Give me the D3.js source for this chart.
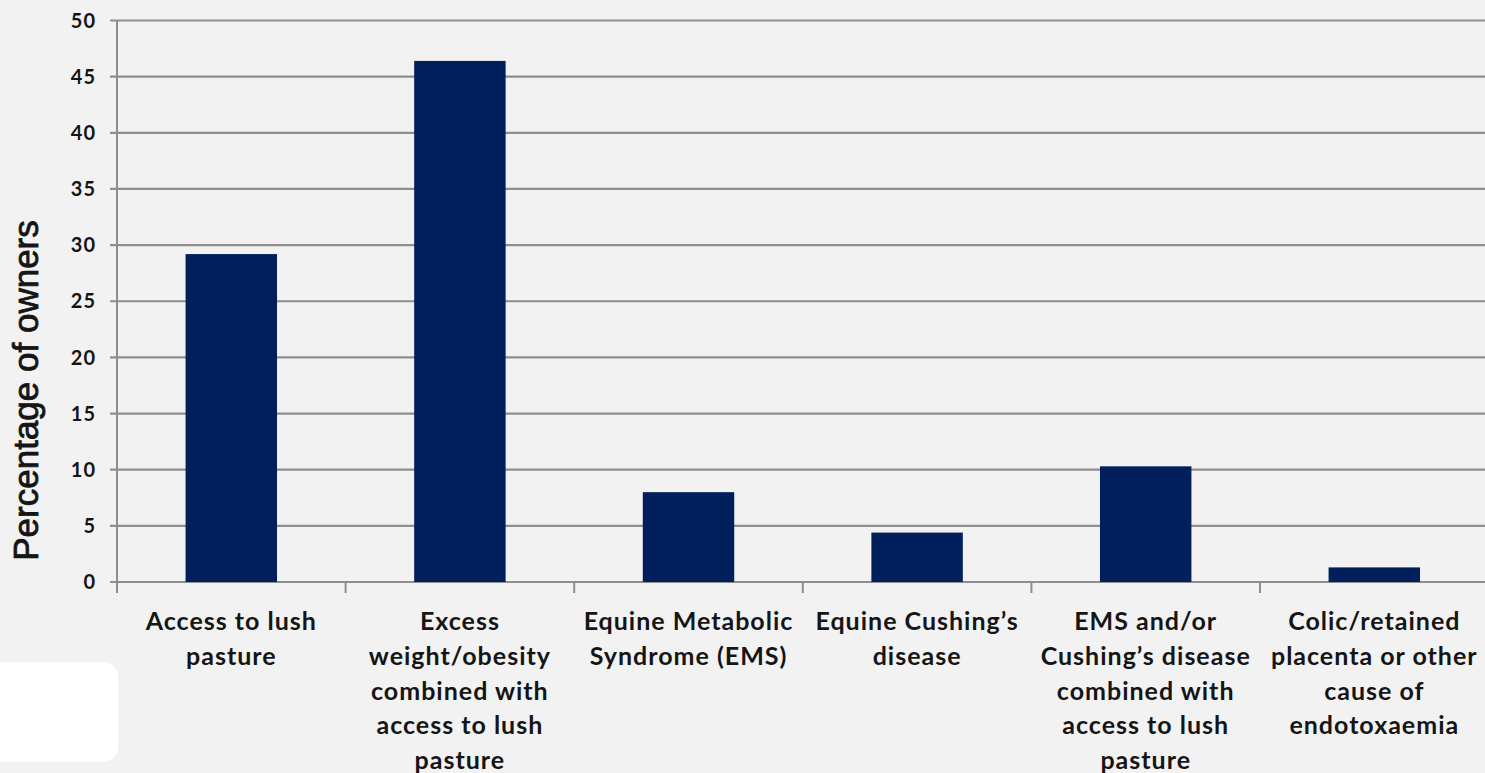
<!DOCTYPE html>
<html>
<head>
<meta charset="utf-8">
<script src="https://cdn.jsdelivr.net/npm/d3@7"></script>
<style>
  html, body { margin: 0; padding: 0; background: #f2f2f2; overflow: hidden; }
  svg { display: block; }
</style>
</head>
<body>
<div id="chart"></div>
<script>
// categories (line breaks follow the original label wrapping)
const categories = [
    "Access to lush\npasture",
    "Excess\nweight/obesity\ncombined with\naccess to lush\npasture",
    "Equine Metabolic\nSyndrome (EMS)",
    "Equine Cushing\u2019s\ndisease",
    "EMS and/or\nCushing\u2019s disease\ncombined with\naccess to lush\npasture",
    "Colic/retained\nplacenta or other\ncause of\nendotoxaemia"
];
const percentages = [29.2, 46.4, 8.0, 4.4, 10.3, 1.3];
const yTicks = [0, 5, 10, 15, 20, 25, 30, 35, 40, 45, 50];
const yTitle = "Percentage of owners";

window.onload = () => {
    const width = 1485;
    const height = 773;
    const left = 117, right = 1488.6, top = 20.5, bottom = 582;

    const svg = d3.select("#chart")
        .append("svg")
        .attr("width", width)
        .attr("height", height);

    svg.append("rect")
        .attr("width", width)
        .attr("height", height)
        .attr("fill", "#f2f2f2");

    // white rounded box in the lower left corner
    svg.append("rect")
        .attr("x", -20)
        .attr("y", 662)
        .attr("width", 138)
        .attr("height", 100)
        .attr("rx", 15)
        .attr("fill", "#ffffff");

    const x = d3.scaleBand()
        .domain(categories)
        .range([left, right])
        .paddingInner(0.6)
        .paddingOuter(0.3);

    const xSlot = d3.scaleBand()
        .domain(categories)
        .range([left, right])
        .padding(0);

    const y = d3.scaleLinear()
        .domain([0, 50])
        .range([bottom, top]);

    // gridlines
    svg.append("g")
        .selectAll("line")
        .data(yTicks)
        .enter()
        .append("line")
        .attr("x1", left - 7)
        .attr("x2", width)
        .attr("y1", d => y(d))
        .attr("y2", d => y(d))
        .attr("stroke", "#8e8e8e")
        .attr("stroke-width", 2.2);

    // y axis line
    svg.append("line")
        .attr("x1", left)
        .attr("x2", left)
        .attr("y1", top)
        .attr("y2", bottom + 11)
        .attr("stroke", "#8e8e8e")
        .attr("stroke-width", 2);

    // category tick marks
    svg.append("g")
        .selectAll("line")
        .data(categories)
        .enter()
        .append("line")
        .attr("x1", d => xSlot(d))
        .attr("x2", d => xSlot(d))
        .attr("y1", bottom)
        .attr("y2", bottom + 11)
        .attr("stroke", "#8e8e8e")
        .attr("stroke-width", 2);

    // bars
    svg.append("g")
        .selectAll("rect")
        .data(percentages)
        .enter()
        .append("rect")
        .attr("x", (d, i) => x(categories[i]))
        .attr("width", x.bandwidth())
        .attr("y", d => y(d))
        .attr("height", d => y(0) - y(d))
        .attr("fill", "#001f5b");

    // y tick labels
    svg.append("g")
        .selectAll("text")
        .data(yTicks)
        .enter()
        .append("text")
        .attr("x", 96)
        .attr("y", d => y(d))
        .attr("dy", "0.36em")
        .attr("text-anchor", "end")
        .attr("font-family", "Lato, sans-serif")
        .attr("font-weight", 700)
        .attr("font-size", 20)
        .attr("letter-spacing", 1)
        .attr("fill", "#151515")
        .text(d => d);

    // category labels
    const labels = svg.append("g")
        .selectAll("text")
        .data(categories)
        .enter()
        .append("text")
        .attr("text-anchor", "middle")
        .attr("font-family", "Lato, sans-serif")
        .attr("font-weight", 700)
        .attr("font-size", 25)
        .attr("letter-spacing", 1)
        .attr("fill", "#151515");

    labels.selectAll("tspan")
        .data(d => d.split("\n").map(t => ({ t: t, c: d })))
        .enter()
        .append("tspan")
        .attr("x", d => xSlot(d.c) + xSlot.bandwidth() / 2)
        .attr("y", (d, i) => 630 + i * 34.8)
        .text(d => d.t);

    // y axis title
    svg.append("text")
        .attr("transform", `translate(38,${(218 + 563) / 2}) rotate(-90)`)
        .attr("text-anchor", "middle")
        .attr("font-family", "Liberation Sans, Arial, sans-serif")
        .attr("font-size", 35)
        .attr("fill", "#151515")
        .attr("stroke", "#151515")
        .attr("stroke-width", 0.8)
        .text(yTitle);
};
</script>
</body>
</html>
